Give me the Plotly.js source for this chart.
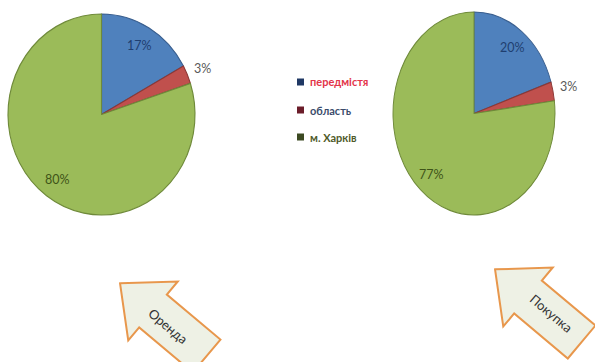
<!DOCTYPE html>
<html>
<head>
<meta charset="utf-8">
<script src="https://cdn.plot.ly/plotly-3.0.1.min.js"></script>
<style>html,body{margin:0;padding:0;background:#fff;}#chart{width:595px;height:362px;}</style>
</head>
<body>
<div id="chart"></div>
<script>
// ---- data ----
const categories = ["передмістя", "область", "м. Харків"];
const rentValues = [17, 3, 80];      // Оренда
const buyValues = [20, 3, 77];       // Покупка
const arrowLabels = ["Оренда", "Покупка"];

// ---- styles ----
const sliceColors = ["#4f81bd", "#c0504d", "#9bbb59"];
const sliceLines = ["#3a5f8f", "#8c3836", "#6f8a3a"];
const labelColors = ["#1f3f70", "#595959", "#3f5418"];
const labelInside = [true, false, true];
const legendSquare = ["#1f3864", "#6b1d2a", "#3c4a22"];
const legendText = ["#e3344a", "#3b4c6b", "#4f5a2a"];
const FONT = "Lato, 'Open Sans', sans-serif";

const W = 595, H = 362;
const px = x => x / W;
const py = y => 1 - y / H;

// pie geometry (centre, vertical radius, horizontal squash)
const pies = [
  {values: rentValues, cx: 101.5, cy: 114.5, ry: 100.5, rx: 93.5},
  {values: buyValues, cx: 474, cy: 113.5, ry: 101.5, rx: 81}
];

const data = pies.map(p => ({
  type: "pie",
  labels: categories,
  values: p.values,
  sort: false,
  direction: "clockwise",
  rotation: 0,
  showlegend: false,
  textinfo: "none",
  marker: {colors: sliceColors, line: {color: sliceLines, width: 1.2}},
  domain: {x: [px(p.cx - p.ry), px(p.cx + p.ry)], y: [py(p.cy + p.ry), py(p.cy - p.ry)]}
}));

const annotations = [];
// percent labels, placed at each slice's mid angle
pies.forEach(p => {
  const total = p.values.reduce((a, b) => a + b, 0);
  let cum = 0;
  p.values.forEach((v, i) => {
    const mid = (cum + v / 2) / total * 2 * Math.PI;
    cum += v;
    const f = labelInside[i] ? 0.8 : 1.06;
    const x = p.cx + f * p.rx * Math.sin(mid);
    const y = p.cy - f * p.ry * Math.cos(mid) - (labelInside[i] ? 0 : 4);
    annotations.push({xref: "paper", yref: "paper", x: px(x), y: py(y),
      xanchor: labelInside[i] ? "center" : "left", yanchor: "middle", showarrow: false,
      text: Math.round(v / total * 100) + "%",
      font: {family: FONT, size: 12.5, color: labelColors[i]}});
  });
});

// arrows (decorative block arrows)
function arrowPath(mx, my, thetaDeg) {
  const t = thetaDeg * Math.PI / 180;
  const u = [Math.cos(t), Math.sin(t)];
  const n = [Math.sin(t), -Math.cos(t)];
  const pts = [[-43, 0], [0, 38.5], [0, 21.5], [70, 21.5], [70, -21.5], [0, -21.5], [0, -38.5]];
  return pts.map((p, i) => {
    const x = mx + p[0] * u[0] + p[1] * n[0];
    const y = my + p[0] * u[1] + p[1] * n[1];
    return (i === 0 ? "M" : "L") + px(x).toFixed(5) + "," + py(y).toFixed(5);
  }).join(" ") + " Z";
}

const shapes = [
  {type: "path", xref: "paper", yref: "paper", path: arrowPath(153, 311, 40),
   fillcolor: "#eef1e5", line: {color: "#e8974c", width: 2}, layer: "below"},
  {type: "path", xref: "paper", yref: "paper", path: arrowPath(528, 297, 40),
   fillcolor: "#eef1e5", line: {color: "#e8974c", width: 2}, layer: "below"}
];

// legend squares + texts
const legendY = [82, 110, 137];
legendY.forEach((y, i) => {
  shapes.push({type: "rect", xref: "paper", yref: "paper",
    x0: px(297), x1: px(304), y0: py(y + 3.5), y1: py(y - 3.5),
    fillcolor: legendSquare[i], line: {width: 0}});
  annotations.push({xref: "paper", yref: "paper", x: px(308), y: py(y),
    xanchor: "left", yanchor: "middle", showarrow: false,
    text: "<b>" + categories[i] + "</b>",
    font: {family: FONT, size: 11, color: legendText[i]}});
});

annotations.push({xref: "paper", yref: "paper", x: px(168), y: py(326), showarrow: false,
  text: arrowLabels[0], textangle: 40, xanchor: "center", yanchor: "middle",
  font: {family: FONT, size: 13, color: "#333333"}});
annotations.push({xref: "paper", yref: "paper", x: px(551), y: py(313), showarrow: false,
  text: arrowLabels[1], textangle: 40, xanchor: "center", yanchor: "middle",
  font: {family: FONT, size: 13, color: "#333333"}});

const layout = {
  width: W, height: H,
  margin: {l: 0, r: 0, t: 0, b: 0},
  paper_bgcolor: "#ffffff",
  plot_bgcolor: "#ffffff",
  showlegend: false,
  shapes: shapes,
  annotations: annotations
};

const gd = document.getElementById("chart");
Plotly.newPlot(gd, data, layout, {displayModeBar: false, staticPlot: true}).then(() => {
  // squash each pie horizontally into the ellipse seen in the original
  const traces = gd.querySelectorAll(".pielayer .trace");
  traces.forEach((tr, k) => {
    const cd0 = gd.calcdata[k][0];
    const s = pies[k].rx / pies[k].ry;
    const cx = cd0.cx;
    tr.querySelectorAll("path.surface").forEach(path => {
      path.setAttribute("transform", "translate(" + cx + ",0) scale(" + s + ",1) translate(" + (-cx) + ",0)");
    });
  });
});
</script>
</body>
</html>
